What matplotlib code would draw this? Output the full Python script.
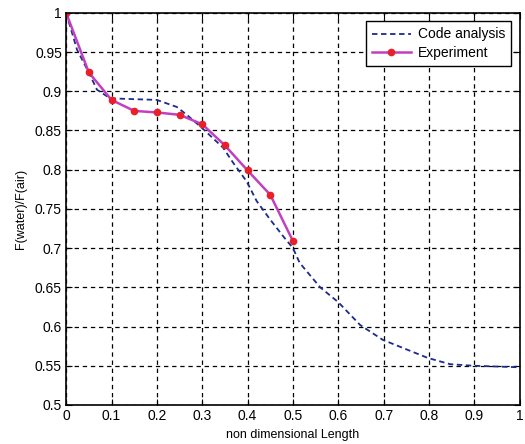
import matplotlib
matplotlib.use('Agg')
import matplotlib.pyplot as plt
plt.rcParams['font.family'] = ['Liberation Sans', 'DejaVu Sans']
plt.rcParams['font.size'] = 10

# code analysis curve
x_code = [0.0, 0.024, 0.049, 0.068, 0.097, 0.148, 0.2, 0.244, 0.266, 0.3,
          0.346, 0.368, 0.398, 0.42, 0.449, 0.48, 0.5, 0.515, 0.56, 0.6, 0.648,
          0.698, 0.797, 0.846, 0.896, 1.0]
y_code = [1.0, 0.953, 0.925, 0.902, 0.891, 0.89, 0.889, 0.88, 0.87, 0.853,
          0.828, 0.809, 0.785, 0.760, 0.737, 0.714, 0.70, 0.681, 0.65, 0.631, 0.602,
          0.583, 0.56, 0.552, 0.55, 0.548]

# experiment points
x_exp = [0.0, 0.05, 0.1, 0.15, 0.2, 0.25, 0.3, 0.35, 0.4, 0.45, 0.5]
y_exp = [1.0, 0.924, 0.889, 0.875, 0.873, 0.870, 0.858, 0.831, 0.799, 0.768, 0.709]

fig = plt.figure(figsize=(5.25, 4.44), dpi=100)
ax = fig.add_axes([0.126, 0.088, 0.864, 0.883])

ax.plot(x_code, y_code, color='#1c2a8c', linestyle='--', linewidth=1.3,
        dashes=(3, 2), label='Code analysis')
ax.plot(x_exp, y_exp, color='#c040c0', linewidth=1.8, marker='o', markersize=4.5,
        markerfacecolor='#e8202a', markeredgecolor='#e8202a', label='Experiment')

ax.set_xlim(0, 1)
ax.set_ylim(0.5, 1)
ax.set_xticks([0, 0.1, 0.2, 0.3, 0.4, 0.5, 0.6, 0.7, 0.8, 0.9, 1])
ax.set_xticklabels(['0', '0.1', '0.2', '0.3', '0.4', '0.5', '0.6', '0.7', '0.8', '0.9', '1'])
ax.set_yticks([0.5, 0.55, 0.6, 0.65, 0.7, 0.75, 0.8, 0.85, 0.9, 0.95, 1])
ax.set_yticklabels(['0.5', '0.55', '0.6', '0.65', '0.7', '0.75', '0.8', '0.85', '0.9', '0.95', '1'])
ax.tick_params(direction='in', length=4, top=True, right=True, labelsize=10, pad=3)
ax.grid(True, color='black', linestyle=(0, (3.5, 3)), linewidth=0.9)
for s in ax.spines.values():
    s.set_linewidth(1.2)

ax.set_xlabel('non dimensional Length', fontsize=9, labelpad=4)
ax.set_ylabel('F(water)/F(air)', fontsize=9, labelpad=6)

leg = ax.legend(loc='upper right', fancybox=False, framealpha=1, edgecolor='black',
                fontsize=10, borderaxespad=0.6, handlelength=2.8, borderpad=0.45,
                labelspacing=0.3, handletextpad=0.5)
leg.get_frame().set_linewidth(1.0)

fig.savefig('out.png', dpi=100)
